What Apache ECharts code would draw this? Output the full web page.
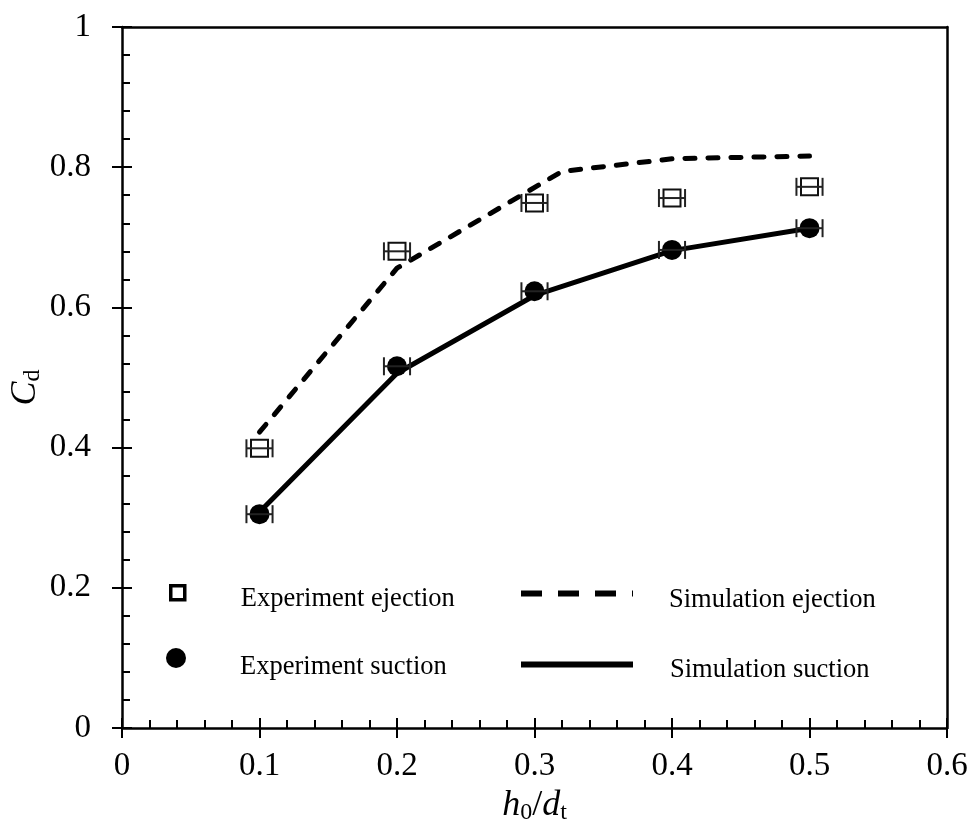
<!DOCTYPE html>
<html>
<head>
<meta charset="utf-8">
<title>Cd vs h0/dt</title>
<script src="https://cdn.jsdelivr.net/npm/echarts@6/dist/echarts.min.js"></script>
<style>
    html, body { margin: 0; padding: 0; background: #fff; }
    #chart { width: 970px; height: 833px; }
</style>
</head>
<body>
<div id="chart"></div>
<script>
var xValues = [0.1, 0.2, 0.3, 0.4, 0.5];
var expEjection = [0.399, 0.680, 0.749, 0.756, 0.772];
var expSuction = [0.305, 0.516, 0.623, 0.682, 0.713];
var xError = [0.0095, 0.0095, 0.0095, 0.0095, 0.0095];

// Simulation curves
var simEjectionX = [0.1, 0.2, 0.32, 0.4, 0.5];
var simEjectionY = [0.422, 0.656, 0.794, 0.812, 0.816];
var simSuctionX = [0.1, 0.2, 0.3, 0.4, 0.5];
var simSuctionY = [0.308, 0.506, 0.617, 0.681, 0.713];

var xTicks = [0, 0.1, 0.2, 0.3, 0.4, 0.5, 0.6];
var yTicks = [0, 0.2, 0.4, 0.6, 0.8, 1];

var FONT = '"Liberation Serif", "Times New Roman", serif';

function pairs(xs, ys) {
    return xs.map(function (x, i) { return [x, ys[i]]; });
}

function errorData(xs, ys, errs) {
    return xs.map(function (x, i) { return [x, ys[i], errs[i]]; });
}

// Horizontal error bar with end caps
function renderErrorBar(params, api) {
    var x = api.value(0), y = api.value(1), e = api.value(2);
    var a = api.coord([x - e, y]);
    var b = api.coord([x + e, y]);
    var cap = 9;
    var style = { stroke: '#222', lineWidth: 2 };
    return {
        type: 'group',
        children: [
            { type: 'line', shape: { x1: a[0], y1: a[1], x2: b[0], y2: b[1] }, style: style },
            { type: 'line', shape: { x1: a[0], y1: a[1] - cap, x2: a[0], y2: a[1] + cap }, style: style },
            { type: 'line', shape: { x1: b[0], y1: b[1] - cap, x2: b[0], y2: b[1] + cap }, style: style }
        ]
    };
}

var axisLine = { show: true, onZero: false, lineStyle: { color: '#000', width: 2.5 } };
var labelStyle = { color: '#000', fontFamily: FONT, fontSize: 33 };

// legend text: rich token so the label can sit a little lower than its icon
function legendText(padTop, padLeft) {
    return {
        rich: {
            t: { color: '#000', fontFamily: FONT, fontSize: 26.5, padding: [padTop, 0, 0, padLeft] }
        }
    };
}
// hides the dot ECharts puts in the middle of line legend icons
var noDot = { color: 'rgba(0,0,0,0)', borderWidth: 0, opacity: 0 };

function baseX(extra) {
    return Object.assign({
        type: 'value', min: xTicks[0], max: xTicks[xTicks.length - 1], interval: 0.1,
        splitLine: { show: false }
    }, extra);
}
function baseY(extra) {
    return Object.assign({
        type: 'value', min: yTicks[0], max: yTicks[yTicks.length - 1], interval: 0.2,
        splitLine: { show: false }
    }, extra);
}

var chart = echarts.init(document.getElementById('chart'), null, { renderer: 'canvas' });

chart.setOption({
    backgroundColor: '#fff',
    animation: false,
    grid: { left: 122, right: 23, top: 27, bottom: 105, containLabel: false, outerBoundsMode: 'none' },
    xAxis: [
        baseX({
            position: 'bottom',
            axisLine: axisLine,
            axisTick: { show: true, inside: false, length: 10, lineStyle: { color: '#000', width: 2 } },
            axisLabel: Object.assign({ margin: 22 }, labelStyle),
            name: '{i|h}{s|0}{n|/}{i|d}{s|t}',
            nameLocation: 'middle',
            nameGap: 55,
            nameTextStyle: {
                rich: {
                    i: { fontFamily: FONT, fontStyle: 'italic', fontSize: 36, color: '#000' },
                    n: { fontFamily: FONT, fontSize: 36, color: '#000' },
                    s: { fontFamily: FONT, fontSize: 24, color: '#000', padding: [14, 0, 0, 0] }
                }
            }
        }),
        baseX({
            position: 'bottom',
            axisLine: { show: false },
            axisTick: { show: true, inside: true, length: 10, lineStyle: { color: '#000', width: 2 } },
            minorTick: { show: true, splitNumber: 5, length: 8, lineStyle: { color: '#000', width: 2 } },
            axisLabel: { show: false }
        }),
        baseX({
            position: 'top',
            axisLine: axisLine,
            axisTick: { show: false },
            axisLabel: { show: false }
        })
    ],
    yAxis: [
        baseY({
            position: 'left',
            axisLine: axisLine,
            axisTick: { show: true, inside: false, length: 10, lineStyle: { color: '#000', width: 2 } },
            axisLabel: Object.assign({ margin: 31 }, labelStyle),
            name: '{i|C}{s|d}',
            nameLocation: 'middle',
            nameGap: 77,
            nameRotate: 90,
            nameMoveOverlap: false,
            nameTextStyle: {
                padding: [0, 20, 0, 0],
                rich: {
                    i: { fontFamily: FONT, fontStyle: 'italic', fontSize: 36, color: '#000' },
                    s: { fontFamily: FONT, fontSize: 24, color: '#000', padding: [14, 0, 0, 0] }
                }
            }
        }),
        baseY({
            position: 'left',
            axisLine: { show: false },
            axisTick: { show: true, inside: true, length: 10, lineStyle: { color: '#000', width: 2 } },
            minorTick: { show: true, splitNumber: 5, length: 8, lineStyle: { color: '#000', width: 2 } },
            axisLabel: { show: false }
        }),
        baseY({
            position: 'right',
            axisLine: axisLine,
            axisTick: { show: false },
            axisLabel: { show: false }
        })
    ],
    legend: [
        {
            selectedMode: false, orient: 'vertical', left: 164, top: 579,
            itemWidth: 14, itemHeight: 14,
            formatter: '{t|{name}}',
            textStyle: legendText(12, 51),
            data: [{ name: 'Experiment ejection', icon: 'rect',
                     itemStyle: { color: '#fff', borderColor: '#000', borderWidth: 3.5, opacity: 1 } }]
        },
        {
            selectedMode: false, orient: 'vertical', left: 161, top: 643,
            itemWidth: 20, itemHeight: 20,
            formatter: '{t|{name}}',
            textStyle: legendText(18, 49),
            data: [{ name: 'Experiment suction', icon: 'circle',
                     itemStyle: { color: '#000', opacity: 1 } }]
        },
        {
            selectedMode: false, orient: 'vertical', left: 513, top: 582,
            itemWidth: 112, itemHeight: 14,
            formatter: '{t|{name}}',
            textStyle: legendText(14, 31),
            data: [{ name: 'Simulation ejection', itemStyle: noDot,
                     lineStyle: { color: '#000', type: [21, 16], width: 6, cap: 'butt' } }]
        },
        {
            selectedMode: false, orient: 'vertical', left: 513, top: 652,
            itemWidth: 112, itemHeight: 14,
            formatter: '{t|{name}}',
            textStyle: legendText(12, 32),
            data: [{ name: 'Simulation suction', itemStyle: noDot,
                     lineStyle: { color: '#000', type: 'solid', width: 6 } }]
        }
    ],
    series: [
        {
            name: 'Simulation ejection',
            type: 'line',
            data: pairs(simEjectionX, simEjectionY),
            symbol: 'none',
            lineStyle: { color: '#000', width: 5, type: [10, 13], cap: 'round' },
            itemStyle: { color: '#000' },
            z: 2
        },
        {
            name: 'Simulation suction',
            type: 'line',
            data: pairs(simSuctionX, simSuctionY),
            symbol: 'none',
            lineStyle: { color: '#000', width: 5 },
            itemStyle: { color: '#000' },
            z: 2
        },
        {
            name: 'Experiment ejection',
            type: 'scatter',
            data: pairs(xValues, expEjection),
            symbol: 'rect',
            symbolSize: [17, 17],
            itemStyle: { color: 'rgba(255,255,255,0)', borderColor: '#111', borderWidth: 2, opacity: 1 },
            z: 3
        },
        {
            name: 'Experiment suction',
            type: 'scatter',
            data: pairs(xValues, expSuction),
            symbol: 'circle',
            symbolSize: 20,
            itemStyle: { color: '#000', opacity: 1 },
            z: 3
        },
        {
            name: 'ejection error',
            type: 'custom',
            renderItem: renderErrorBar,
            data: errorData(xValues, expEjection, xError),
            encode: { x: 0, y: 1 },
            z: 4
        },
        {
            name: 'suction error',
            type: 'custom',
            renderItem: renderErrorBar,
            data: errorData(xValues, expSuction, xError),
            encode: { x: 0, y: 1 },
            z: 4
        }
    ]
});

window.addEventListener('resize', function () {
    if (chart) chart.resize();
});
</script>
</body>
</html>
